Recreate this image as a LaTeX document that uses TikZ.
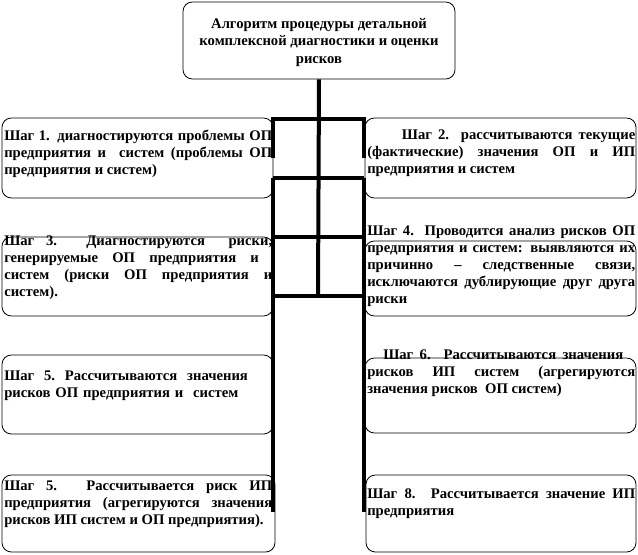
\documentclass[tikz,border=0pt]{standalone}
\usepackage{fontspec}
\setmainfont{Liberation Serif}
\tolerance=10000
\begin{document}
\begin{tikzpicture}[x=0.75pt,y=-0.75pt,
  rbox/.style={draw=black,line width=0.6pt,rounded corners=7pt,inner sep=0pt},
  txt/.style={anchor=north west,inner sep=0pt,text width=201pt,align=justify,
    font=\bfseries\fontsize{11}{12.75}\selectfont},
  grid/.style={line width=3pt,line join=miter}]
\useasboundingbox (0,0) rectangle (638,554);
% boxes
\node[rbox,minimum width=204pt,minimum height=57.75pt] (top) at (319,40.5) {};
\node[rbox,minimum width=203.25pt,minimum height=60pt] (b1) at (137.5,158) {};
\node[rbox,minimum width=203.25pt,minimum height=60pt] (b2) at (500.5,158) {};
\node[rbox,minimum width=203.25pt,minimum height=59.25pt] (b3) at (137.5,276.5) {};
\node[rbox,minimum width=203.25pt,minimum height=56.25pt] (b4) at (500.5,278.5) {};
\node[rbox,minimum width=203.25pt,minimum height=59.25pt] (b5) at (137.5,394.5) {};
\node[rbox,minimum width=203.25pt,minimum height=56.25pt] (b6) at (500.5,395.5) {};
\node[rbox,minimum width=204.75pt,minimum height=57.75pt] (b7) at (138.5,513.5) {};
\node[rbox,minimum width=202.5pt,minimum height=57.75pt] (b8) at (501,513.5) {};
% texts
\node[anchor=north,inner sep=0pt,align=center,font=\bfseries\fontsize{11}{13.1}\selectfont] (ttop) at (319,18) {Алгоритм процедуры детальной\\комплексной диагностики и оценки\\рисков};
\node[txt] (t1) at (4,130) {Шаг 1. диагностируются проблемы ОП\linebreak предприятия и~ систем (проблемы ОП\linebreak предприятия и систем)};
\node[txt] (t2) at (367,130) {\hspace*{26pt}Шаг 2. рассчитываются текущие\linebreak (фактические) значения ОП и ИП\linebreak предприятия и систем};
\node[txt] (t3) at (4,236) {Шаг 3. Диагностируются~ риски,\linebreak генерируемые ОП предприятия и\hspace*{10pt}\linebreak систем (риски ОП предприятия и\linebreak систем).};
\node[txt] (t4) at (367,226) {Шаг 4. Проводится анализ рисков ОП\linebreak предприятия и систем: выявляются их\linebreak причинно – следственные связи,\linebreak исключаются дублирующие друг друга\linebreak риски};
\node[txt,align=left] (t5) at (4,371) {Шаг~~5.~~Рассчитываются~~значения\\рисков ОП предприятия и~~систем};
\node[txt] (t6) at (367,350) {\hspace*{12pt}Шаг 6. Рассчитываются значения\hspace*{9pt}\linebreak рисков ИП систем (агрегируются\linebreak значения рисков~ ОП систем)};
\node[txt] (t7) at (4,481) {Шаг 5. Рассчитывается риск ИП\linebreak предприятия (агрегируются значения\linebreak рисков ИП систем и ОП предприятия).};
\node[txt] (t8) at (367,488) {Шаг 8. Рассчитывается значение ИП\linebreak предприятия};
% connector grid
\coordinate (hA) at (318,119);
\coordinate (hD) at (318,296);
\draw[grid] (top.south) -- (hD);
\draw[grid] (273,158) -- (273,119) -- (364,119) -- (364,158);
\draw[grid] (273,178) -- (364,178);
\draw[grid] (273,237) -- (364,237);
\draw[grid] (273,296) -- (364,296);
\draw[grid] (273,178) -- (273,512);
\draw[grid] (364,178) -- (364,512);
\end{tikzpicture}
\end{document}
